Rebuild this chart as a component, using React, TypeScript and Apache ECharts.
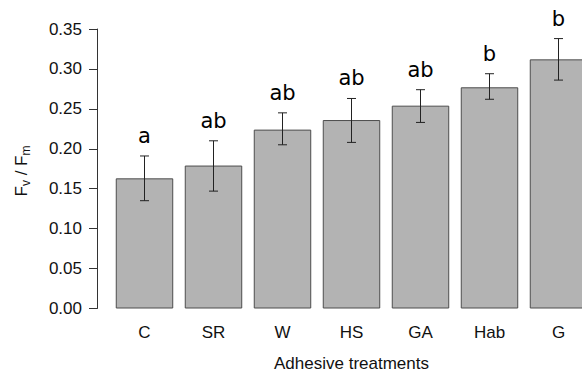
import React, { useEffect, useRef } from "react";
import * as echarts from "echarts";

const categories = ["C", "SR", "W", "HS", "GA", "Hab", "G"];
const means = [0.163, 0.179, 0.224, 0.236, 0.254, 0.277, 0.312];
const lower = [0.135, 0.147, 0.205, 0.208, 0.233, 0.262, 0.286];
const upper = [0.191, 0.210, 0.245, 0.263, 0.274, 0.294, 0.338];
const letters = ["a", "ab", "ab", "ab", "ab", "b", "b"];
const yTicks = { min: 0, max: 0.35, interval: 0.05 };

export default function App() {
  const ref = useRef<HTMLDivElement>(null);
  useEffect(() => {
    if (!ref.current) return;
    const chart = echarts.init(ref.current, null, { renderer: "svg" });
    const labelFont = "'Liberation Sans', Arial, sans-serif";
    chart.setOption({
      animation: false,
      backgroundColor: "#ffffff",
      grid: {
        left: 110,
        width: 483,
        top: 29,
        height: 279.5,
        containLabel: false,
        outerBoundsMode: "none",
      },
      xAxis: {
        type: "category",
        data: categories,
        axisLine: { show: false },
        axisTick: { show: false },
        axisLabel: { color: "#111", fontSize: 17, fontFamily: labelFont, margin: 15 },
        name: "Adhesive treatments",
        nameLocation: "middle",
        nameGap: 46,
        nameTextStyle: { color: "#111", fontSize: 17, fontFamily: labelFont },
      },
      yAxis: {
        type: "value",
        min: yTicks.min,
        max: yTicks.max,
        interval: yTicks.interval,
        offset: 13,
        splitLine: { show: false },
        axisLine: { show: true, lineStyle: { color: "#333", width: 1 } },
        axisTick: { show: true, length: 8, lineStyle: { color: "#333", width: 1 } },
        axisLabel: {
          color: "#111",
          fontSize: 17,
          fontFamily: labelFont,
          margin: 15,
          formatter: (v: number) => v.toFixed(2),
        },
      },
      graphic: [
        {
          type: "text",
          x: 21,
          y: 171,
          rotation: Math.PI / 2,
          style: {
            text: "{m|F}{s|v}{m| / F}{s|m}",
            align: "center",
            verticalAlign: "middle",
            rich: {
              m: { fontSize: 17, fontFamily: labelFont, fill: "#111", lineHeight: 22, verticalAlign: "middle" },
              s: {
                fontSize: 12,
                fontFamily: labelFont,
                fill: "#111",
                lineHeight: 12,
                verticalAlign: "bottom",
              },
            },
          },
        },
      ],
      series: [
        {
          type: "bar",
          data: means,
          barCategoryGap: "16.7%",
          itemStyle: { color: "#b3b3b3", borderColor: "#4d4d4d", borderWidth: 1 },
        },
        {
          type: "custom",
          data: categories.map((_, i) => [i, lower[i], upper[i]]),
          clip: false,
          z: 10,
          renderItem: (params: any, api: any) => {
            const i = api.value(0);
            const lo = api.coord([i, api.value(1)]);
            const hi = api.coord([i, api.value(2)]);
            const half = 4.5;
            const st = { stroke: "#222", lineWidth: 1 };
            return {
              type: "group",
              children: [
                { type: "line", shape: { x1: lo[0], y1: lo[1], x2: hi[0], y2: hi[1] }, style: st },
                { type: "line", shape: { x1: lo[0] - half, y1: lo[1], x2: lo[0] + half, y2: lo[1] }, style: st },
                { type: "line", shape: { x1: hi[0] - half, y1: hi[1], x2: hi[0] + half, y2: hi[1] }, style: st },
                {
                  type: "text",
                  x: hi[0],
                  y: hi[1] - 20,
                  style: {
                    text: letters[params.dataIndex],
                    align: "center",
                    verticalAlign: "middle",
                    fontSize: 21,
                    fontFamily: "'DejaVu Sans', sans-serif",
                    fill: "#000",
                  },
                },
              ],
            };
          },
        },
      ],
    });
    return () => chart.dispose();
  }, []);
  return (
    <div
      ref={ref}
      style={{ position: "absolute", left: 0, top: 0, width: 582, height: 372, background: "#fff" }}
    />
  );
}
